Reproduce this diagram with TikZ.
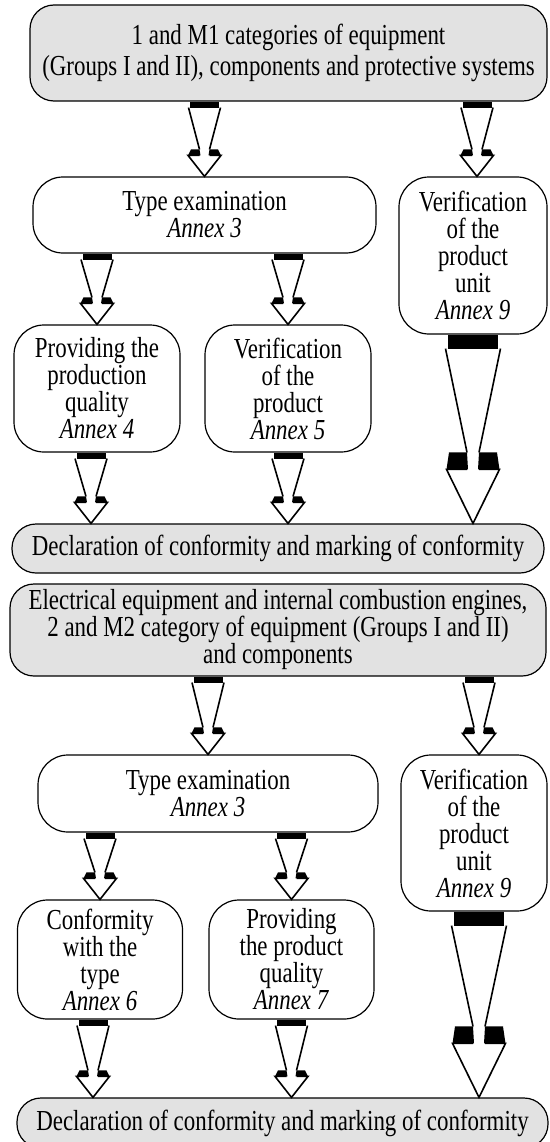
\documentclass[tikz,border=0pt]{standalone}
\usepackage{fontspec}
\setmainfont{Liberation Serif}[FakeStretch=0.79]
\usepackage{xcolor}
\usetikzlibrary{calc,positioning}
\definecolor{boxgray}{RGB}{226,226,226}

% arrow sizes
\newcommand{\smallfa}{\def\fabw{14.5}\def\fasw{16}\def\fahh{16.5}\def\fasb{5}\def\fano{13.5}\def\fabar{6}\def\fabarb{6}\def\fahead{21}}
\newcommand{\bigfa}{\def\fabw{25}\def\fasw{27.5}\def\fahh{26.5}\def\fasb{6}\def\fano{24}\def\fabar{14}\def\fabarb{17}\def\fahead{54}}

% hollow arrow from a point straight down to the top of a node
\newcommand{\fatarrow}[3][\smallfa]{%
  #1
  \coordinate (fa-s) at #2;
  \coordinate (fa-e) at (fa-s |- #3.north);
  \fill let \p1=(fa-s) in (\x1-\fabw,\y1) rectangle (\x1+\fabw,\y1-\fabar);
  \draw[fatline] let \p1=(fa-s), \p2=(fa-e) in
    (\x1-\fasw,\y1-\fabar) -- (\x1-\fasb,\y2+\fahead+\fabarb)
    (\x1+\fasw,\y1-\fabar) -- (\x1+\fasb,\y2+\fahead+\fabarb);
  \fill let \p1=(fa-s), \p2=(fa-e) in
    (\x1-\fasb,\y2+\fahead+\fabarb) -- (\x1-\fano,\y2+\fahead+\fabarb) -- (\x1-\fahh,\y2+\fahead) -- (\x1-\fasb+1,\y2+\fahead) -- cycle
    (\x1+\fasb,\y2+\fahead+\fabarb) -- (\x1+\fano,\y2+\fahead+\fabarb) -- (\x1+\fahh,\y2+\fahead) -- (\x1+\fasb-1,\y2+\fahead) -- cycle;
  \draw[fatline] let \p2=(fa-e) in
    (\x2-\fasb,\y2+\fahead) -- (\x2-\fahh,\y2+\fahead) -- (\x2,\y2) -- (\x2+\fahh,\y2+\fahead) -- (\x2+\fasb,\y2+\fahead);
}

\begin{document}
\begin{tikzpicture}[
    x=1pt, y=-1pt,
    graybox/.style={rectangle, draw, line width=1.2pt, fill=boxgray, rounded corners=24pt, inner sep=0pt, align=center, font=\fontsize{29}{27}\selectfont},
    block/.style={rectangle, draw, line width=1.2pt, fill=white, rounded corners=30pt, inner sep=0pt, align=center, font=\fontsize{29}{27}\selectfont},
    fatline/.style={line width=1.6pt, line join=miter}
]
\useasboundingbox (0,0) rectangle (549,1142);
\clip (0,0) rectangle (549,1142);

% first group
\node[graybox, minimum width=517pt, minimum height=96pt] (cat1) at (288.5,53) {1 and M1 categories of equipment\\[4pt](Groups I and II), components and protective systems};
\node[block, minimum width=343pt, minimum height=76pt] (type1) at (204.5,215) {Type examination\\\textit{Annex 3}};
\node[block, minimum width=148pt, minimum height=157pt] (unit1) at (473,255.5) {Verification\\of the\\product\\unit\\\textit{Annex 9}};
\node[block, minimum width=166pt, minimum height=127pt] (prodq1) at (97,388.5) {Providing the\\production\\quality\\\textit{Annex 4}};
\node[block, minimum width=166pt, minimum height=127pt] (prod1) at (288,388.5) {Verification\\of the\\product\\\textit{Annex 5}};
\node[graybox, minimum width=532pt, minimum height=49pt] (decl1) at (278,548.5) {Declaration of conformity and marking of conformity};

% second group
\node[graybox, minimum width=536pt, minimum height=92pt] (cat2) at (278,630) {Electrical equipment and internal combustion engines,\\2 and M2 category of equipment (Groups I and II)\\and components};
\node[block, minimum width=340pt, minimum height=77pt] (type2) at (208,793.5) {Type examination\\\textit{Annex 3}};
\node[block, minimum width=146pt, minimum height=156pt] (unit2) at (474,833) {Verification\\of the\\product\\unit\\\textit{Annex 9}};
\node[block, minimum width=165pt, minimum height=119pt] (conf) at (100,959.5) {Conformity\\with the\\type\\\textit{Annex 6}};
\node[block, minimum width=165pt, minimum height=119pt] (prodq2) at (291.5,959.5) {Providing\\the product\\quality\\\textit{Annex 7}};
\node[graybox, minimum width=531pt, minimum height=50pt] (decl2) at (282.5,1123) {Declaration of conformity and marking of conformity};

% arrows
\fatarrow{(type1.north |- cat1.south)}{type1}
\fatarrow{([xshift=4pt]unit1.north |- cat1.south)}{unit1}
\fatarrow{(prodq1.north |- type1.south)}{prodq1}
\fatarrow{(prod1.north |- type1.south)}{prod1}
\fatarrow{([xshift=-6pt]prodq1.south)}{decl1}
\fatarrow{(prod1.south)}{decl1}
\fatarrow[\bigfa]{(unit1.south)}{decl1}

\fatarrow{(type2.north |- cat2.south)}{type2}
\fatarrow{([xshift=5pt]unit2.north |- cat2.south)}{unit2}
\fatarrow{(conf.north |- type2.south)}{conf}
\fatarrow{(prodq2.north |- type2.south)}{prodq2}
\fatarrow{([xshift=-7pt]conf.south)}{decl2}
\fatarrow{(prodq2.south)}{decl2}
\fatarrow[\bigfa]{([xshift=5pt]unit2.south)}{decl2}
\end{tikzpicture}
\end{document}
